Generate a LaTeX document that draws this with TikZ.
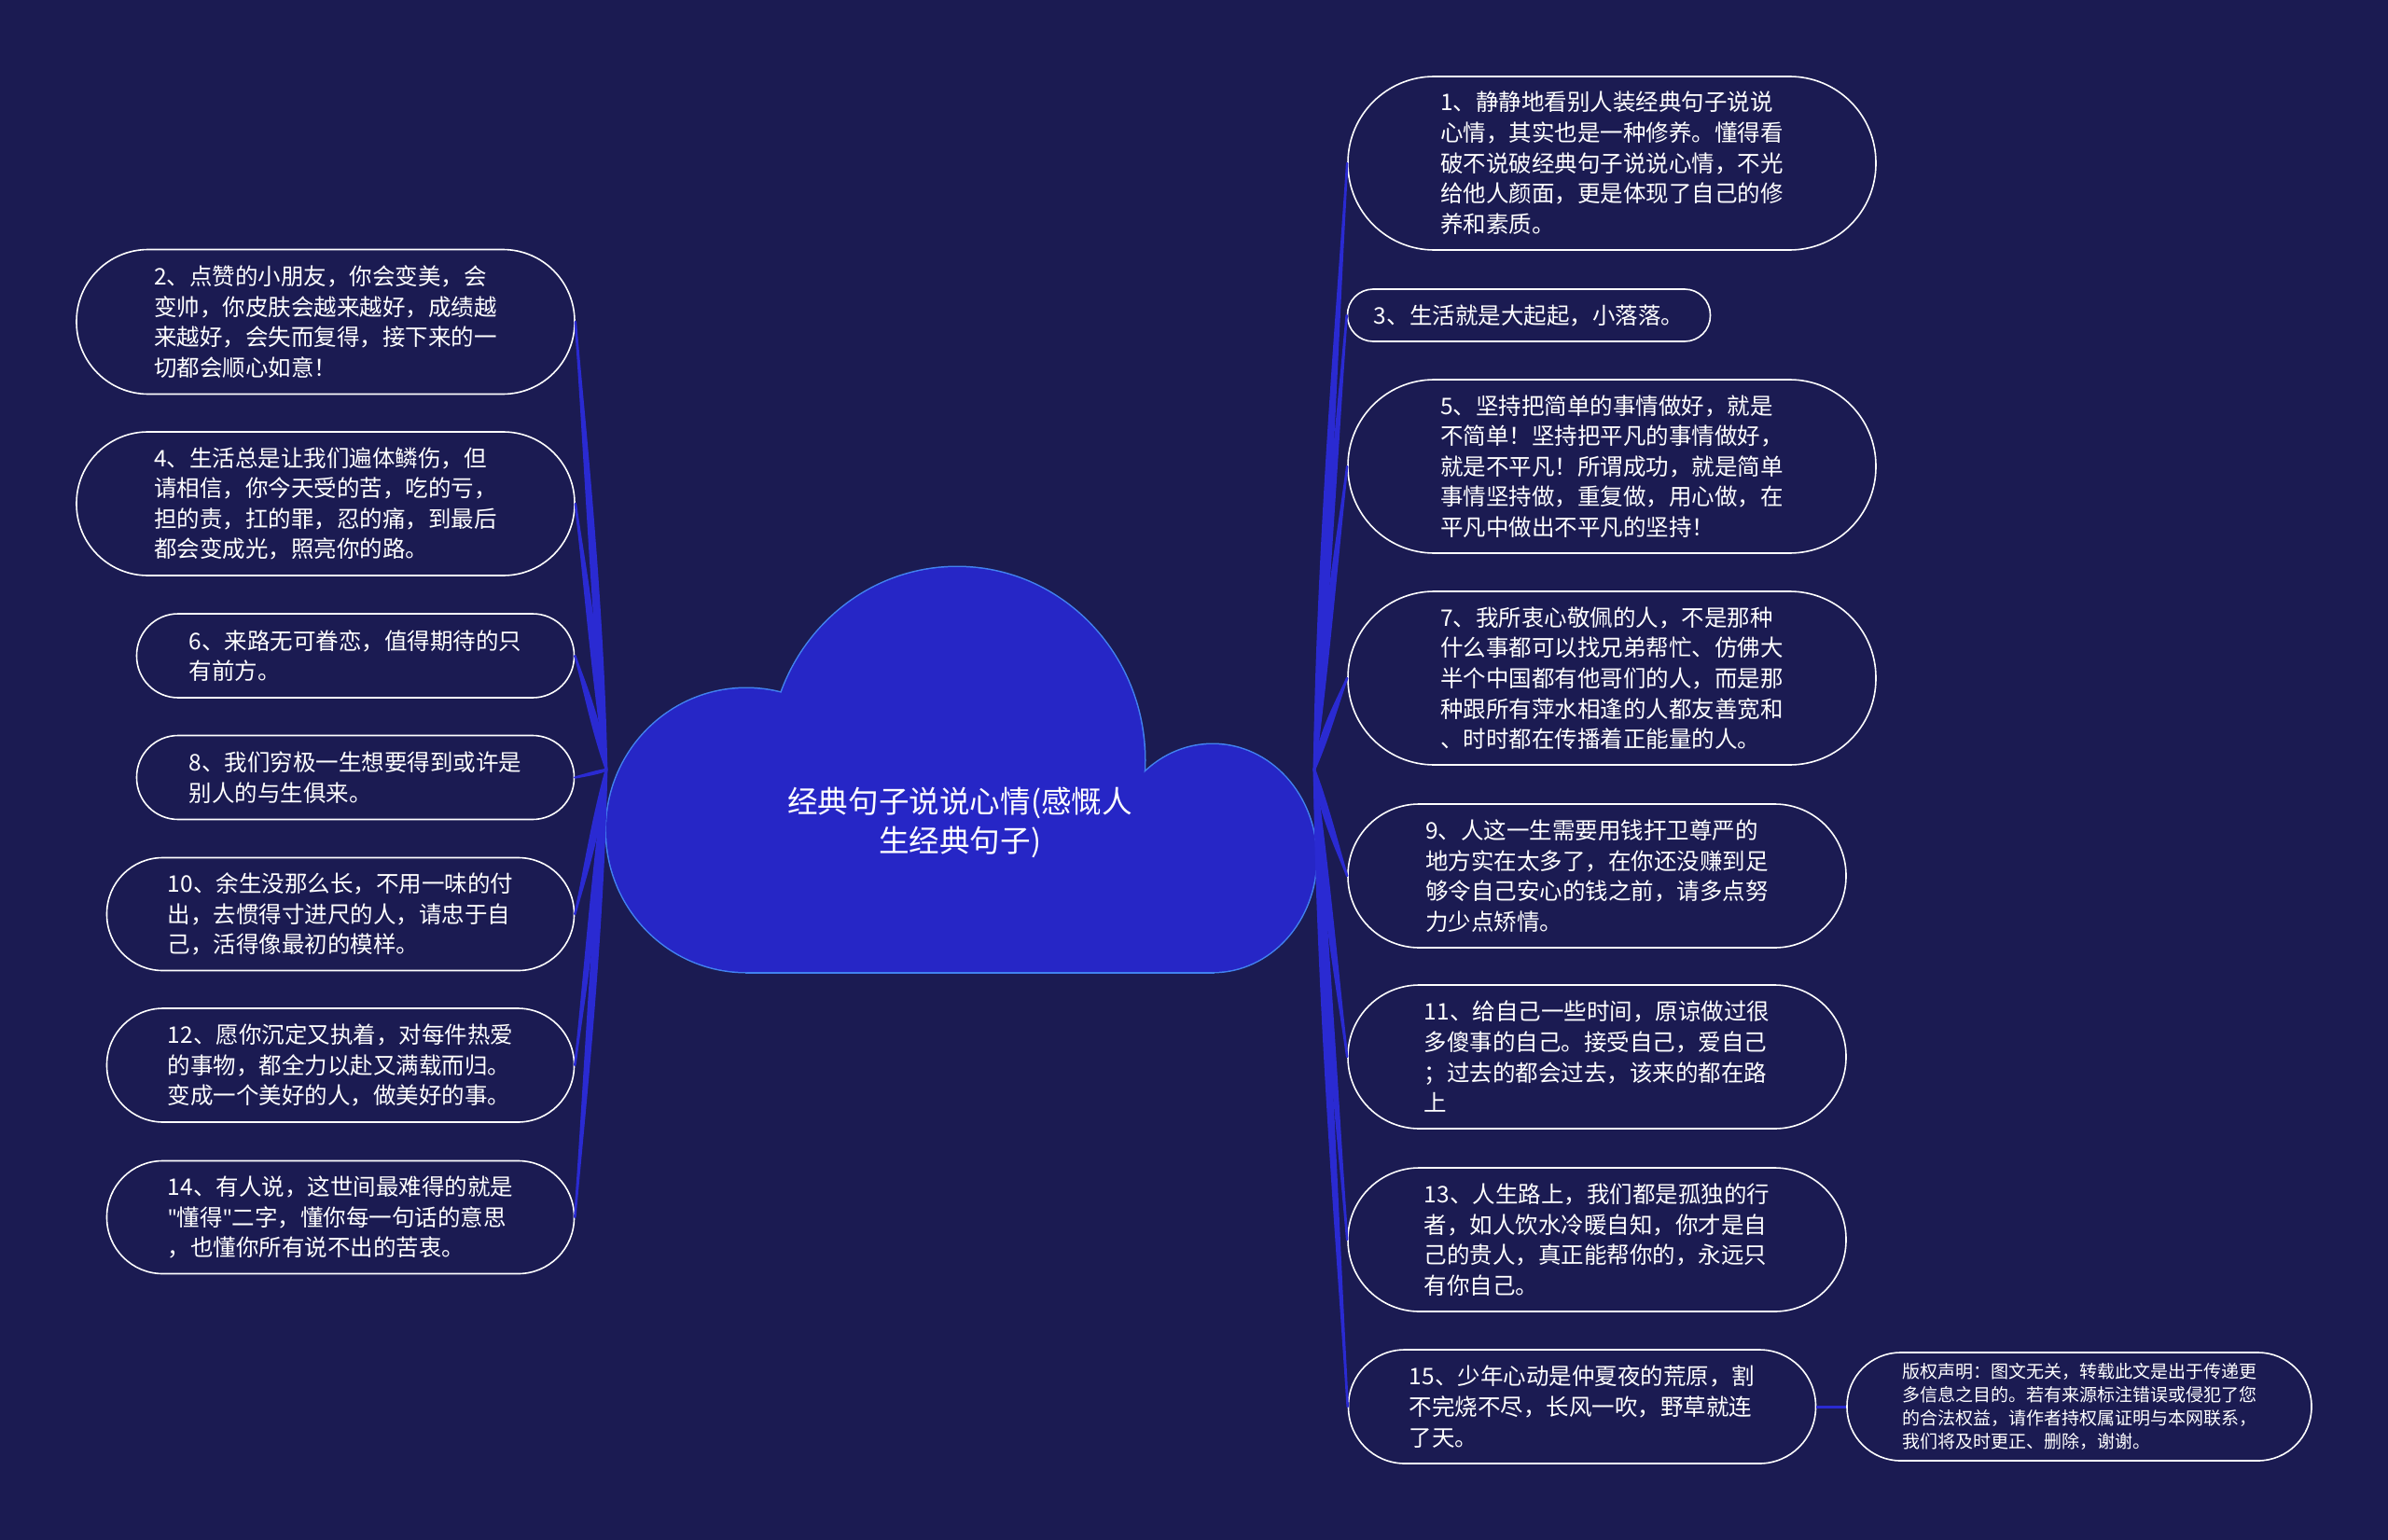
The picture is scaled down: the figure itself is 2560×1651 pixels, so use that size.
\documentclass[tikz,border=0pt]{standalone}
\usepackage{fontspec}
\setmainfont{Noto Sans CJK SC}
\newfontfamily\latinf{Noto Sans}
\usetikzlibrary{calc}
\definecolor{bgc}{RGB}{27,27,82}
\definecolor{cloudfill}{RGB}{38,38,198}
\definecolor{cloudline}{RGB}{66,130,240}
\definecolor{connc}{RGB}{42,42,210}
\tikzset{
  pill/.style={draw=white, line width=1.6pt, fill=bgc, text=white, align=left, inner sep=0pt,
    font=\fontsize{24.5}{32.65}\selectfont},
  smallpill/.style={pill, font=\fontsize{19}{25.3}\selectfont},
  rootnode/.style={text=white, align=center, font=\fontsize{32.6}{42.5}\selectfont},
}
\newcommand\pillnode[6]{% name, cx, cy, W, H, text
  \node[pill, minimum width=#4pt, minimum height=#5pt, rounded corners={#5/2-0.5}] (#1) at (#2,#3) {#6};}
\newcommand\tconn[3]{% hub, end, sign
  \fill[connc, draw=connc, line width=2.6pt, line join=round] let \p1=(#1), \p2=(#2) in
   (\p1) .. controls ({\x1+(#3)*4pt}, {0.6*\y1+0.4*\y2}) and ({\x2-(#3)*8pt}, {0.8*\y2+0.2*\y1}) .. (\p2)
   .. controls ({\x2-(#3)*8pt}, {0.8*\y2+0.2*\y1}) and ({\x1+(#3)*17pt}, {0.6*\y1+0.4*\y2}) .. (\p1) -- cycle;}
\begin{document}
\begin{tikzpicture}[x=1pt,y=-1pt]
\useasboundingbox (0,0) rectangle (2560,1651);
\fill[bgc] (0,0) rectangle (2560,1651);

% cloud
\begin{scope}
\draw[cloudline, line width=3pt, fill=cloudline] (800,890) ellipse [x radius=150pt, y radius=152pt];
\draw[cloudline, line width=3pt, fill=cloudline] (1026,815) ellipse [x radius=201pt, y radius=207pt];
\draw[cloudline, line width=3pt, fill=cloudline] (1300,920) ellipse [x radius=111pt, y radius=122pt];
\draw[cloudline, line width=3pt, fill=cloudline] (800,880) rectangle (1300,1042);
\fill[cloudfill] (800,890) ellipse [x radius=150pt, y radius=152pt];
\fill[cloudfill] (1026,815) ellipse [x radius=201pt, y radius=207pt];
\fill[cloudfill] (1300,920) ellipse [x radius=111pt, y radius=122pt];
\fill[cloudfill] (800,880) rectangle (1300,1042);
\end{scope}
\node[rootnode] (root) at (1029,882) {经典句子说说心情(感慨人\\生经典句子)};
\coordinate (hubL) at (650,825);
\coordinate (hubR) at (1409,825);

% right nodes
\pillnode{n1}{1728}{175}{566}{186}{1、静静地看别人装经典句子说说\\心情，其实也是一种修养。懂得看\\破不说破经典句子说说心情，不光\\给他人颜面，更是体现了自己的修\\养和素质。}
\pillnode{n3}{1639}{338}{389}{56}{3、生活就是大起起，小落落。}
\pillnode{n5}{1728}{500}{566}{186}{5、坚持把简单的事情做好，就是\\不简单！坚持把平凡的事情做好，\\就是不平凡！所谓成功，就是简单\\事情坚持做，重复做，用心做，在\\平凡中做出不平凡的坚持！}
\pillnode{n7}{1728}{727}{566}{186}{7、我所衷心敬佩的人，不是那种\\什么事都可以找兄弟帮忙、仿佛大\\半个中国都有他哥们的人，而是那\\种跟所有萍水相逢的人都友善宽和\\、时时都在传播着正能量的人。}
\pillnode{n9}{1712}{939}{534}{154}{9、人这一生需要用钱扞卫尊严的\\地方实在太多了，在你还没赚到足\\够令自己安心的钱之前，请多点努\\力少点矫情。}
\pillnode{n11}{1712}{1133}{534}{154}{11、给自己一些时间，原谅做过很\\多傻事的自己。接受自己，爱自己\\；过去的都会过去，该来的都在路\\上}
\pillnode{n13}{1712}{1329}{534}{154}{13、人生路上，我们都是孤独的行\\者，如人饮水冷暖自知，你才是自\\己的贵人，真正能帮你的，永远只\\有你自己。}
\pillnode{n15}{1696}{1508}{501}{122}{15、少年心动是仲夏夜的荒原，割\\不完烧不尽，长风一吹，野草就连\\了天。}
\node[smallpill, minimum width=498pt, minimum height=116pt, rounded corners=57.5] (cp) at (2229,1508) {版权声明：图文无关，转载此文是出于传递更\\多信息之目的。若有来源标注错误或侵犯了您\\的合法权益，请作者持权属证明与本网联系，\\我们将及时更正、删除，谢谢。};

% left nodes
\pillnode{n2}{349}{345}{534}{155}{2、点赞的小朋友，你会变美，会\\变帅，你皮肤会越来越好，成绩越\\来越好，会失而复得，接下来的一\\切都会顺心如意！}
\pillnode{n4}{349}{540}{534}{154}{4、生活总是让我们遍体鳞伤，但\\请相信，你今天受的苦，吃的亏，\\担的责，扛的罪，忍的痛，到最后\\都会变成光，照亮你的路。}
\pillnode{n6}{381}{703}{469}{90}{6、来路无可眷恋，值得期待的只\\有前方。}
\pillnode{n8}{381}{833.5}{469}{90}{8、我们穷极一生想要得到或许是\\别人的与生俱来。}
\pillnode{n10}{365}{980}{501}{121}{10、余生没那么长，不用一味的付\\出，去惯得寸进尺的人，请忠于自\\己，活得像最初的模样。}
\pillnode{n12}{365}{1142}{501}{122}{12、愿你沉定又执着，对每件热爱\\的事物，都全力以赴又满载而归。\\变成一个美好的人，做美好的事。}
\pillnode{n14}{365}{1305}{501}{121}{14、有人说，这世间最难得的就是\\{\latinf\symbol{34}}懂得{\latinf\symbol{34}}二字，懂你每一句话的意思\\，也懂你所有说不出的苦衷。}

% connectors
\foreach \nd in {n1,n3,n5,n7,n9,n11,n13,n15} {\tconn{hubR}{\nd.west}{1}}
\foreach \nd in {n2,n4,n6,n8,n10,n12,n14} {\tconn{hubL}{\nd.east}{-1}}
\draw[connc, line width=3pt] (n15.east) -- (cp.west);
\end{tikzpicture}
\end{document}
